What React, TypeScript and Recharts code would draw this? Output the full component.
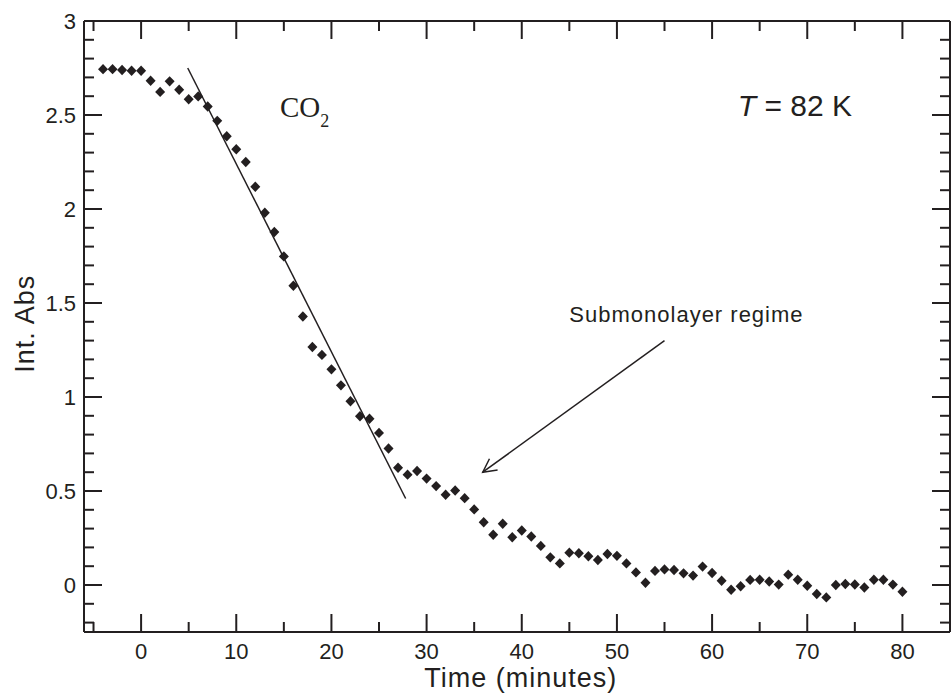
import React from 'react';
import { ScatterChart, Scatter, XAxis, YAxis, ReferenceLine, ReferenceDot } from 'recharts';

const INK = '#231f20';
const SANS = '"Liberation Sans", Arial, Helvetica, sans-serif';
const SERIF = '"Liberation Serif", "Times New Roman", serif';

// Time (minutes)
const times = [
  -4, -3, -2, -1, 0, 1, 2, 3, 4, 5, 6, 7, 8, 9, 10, 11, 12, 13, 14, 15, 16, 17, 18, 19, 20,
  21, 22, 23, 24, 25, 26, 27, 28, 29, 30, 31, 32, 33, 34, 35, 36, 37, 38, 39, 40,
  41, 42, 43, 44, 45, 46, 47, 48, 49, 50, 51, 52, 53, 54, 55, 56, 57, 58, 59, 60,
  61, 62, 63, 64, 65, 66, 67, 68, 69, 70, 71, 72, 73, 74, 75, 76, 77, 78, 79, 80,
];

// Integrated absorbance
const intAbs = [
  2.744, 2.744, 2.739, 2.735, 2.735, 2.682, 2.623, 2.679, 2.634, 2.584, 2.599, 2.545, 2.469, 2.387, 2.318,
  2.25, 2.118, 1.98, 1.878, 1.748, 1.592, 1.428, 1.266, 1.224, 1.147,
  1.062, 0.977, 0.898, 0.884, 0.809, 0.726, 0.624, 0.587, 0.606, 0.566, 0.526, 0.48, 0.503, 0.462, 0.402,
  0.334, 0.267, 0.326, 0.254, 0.29,
  0.258, 0.208, 0.147, 0.115, 0.172, 0.169, 0.153, 0.133, 0.165, 0.155, 0.115, 0.067, 0.012, 0.075, 0.083,
  0.08, 0.062, 0.05, 0.098, 0.064,
  0.023, -0.025, -0.007, 0.027, 0.028, 0.019, 0.002, 0.055, 0.028, -0.004, -0.048, -0.066, 0.0, 0.005, 0.003,
  -0.013, 0.028, 0.028, 0.002, -0.036,
];

const xTicks = [-5, 0, 5, 10, 15, 20, 25, 30, 35, 40, 45, 50, 55, 60, 65, 70, 75, 80];
const xMajor = [0, 10, 20, 30, 40, 50, 60, 70, 80];
const yTicks = [
  -0.2, -0.1, 0, 0.1, 0.2, 0.3, 0.4, 0.5, 0.6, 0.7, 0.8, 0.9, 1, 1.1, 1.2, 1.3, 1.4, 1.5,
  1.6, 1.7, 1.8, 1.9, 2, 2.1, 2.2, 2.3, 2.4, 2.5, 2.6, 2.7, 2.8, 2.9, 3,
];
const yMajor = [0, 0.5, 1, 1.5, 2, 2.5, 3];

const xDomain = [-6, 85];
const yDomain = [-0.25, 3];

// Linear fit line endpoints (time, int abs)
const fitSegment = [
  { x: 4.9, y: 2.75 },
  { x: 27.8, y: 0.46 },
];
// Arrow: tail -> tip
const arrowSegment = [
  { x: 55, y: 1.3 },
  { x: 35.9, y: 0.6 },
];

const co2Pos = { x: 14.6, y: 2.492 };
const tempPos = { x: 62.7, y: 2.496 };
const regimePos = { x: 45.0, y: 1.398 };
const xTitlePos = { x: 39.9, y: -0.25 };
const yTitlePos = { x: -6, y: 1.39 };

const data = times.map((t, i) => ({ x: t, y: intAbs[i] }));

// Draws short inward tick stubs at both ends of a full-span reference line
function renderStubs(p: any, isMajor: boolean) {
  const x1 = Number(p && p.x1);
  const y1 = Number(p && p.y1);
  const x2 = Number(p && p.x2);
  const y2 = Number(p && p.y2);
  if ([x1, y1, x2, y2].some((v) => isNaN(v))) return <g />;
  const dx = x2 - x1;
  const dy = y2 - y1;
  const d = Math.hypot(dx, dy) || 1;
  const ux = dx / d;
  const uy = dy / d;
  const L = isMajor ? 18 : 10;
  return (
    <g>
      <line x1={x1} y1={y1} x2={x1 + ux * L} y2={y1 + uy * L} stroke="#231f20" strokeWidth={2} />
      <line x1={x2} y1={y2} x2={x2 - ux * L} y2={y2 - uy * L} stroke="#231f20" strokeWidth={2} />
    </g>
  );
}

const BottomTick = (p: any) => {
  const v = p.payload.value;
  if (!xMajor.includes(v)) return <g />;
  return (
    <text x={Number(p.x)} y={Number(p.y) + 27} textAnchor="middle" fontSize={22} fontFamily={SANS} fill={INK}>
      {String(v)}
    </text>
  );
};

const LeftTick = (p: any) => {
  const v = p.payload.value;
  if (!yMajor.includes(v)) return <g />;
  return (
    <text x={Number(p.x) - 8} y={Number(p.y) + 8} textAnchor="end" fontSize={22} fontFamily={SANS} fill={INK}>
      {String(v)}
    </text>
  );
};

const Diamond = (p: any) => {
  const { cx, cy } = p;
  if (cx == null || cy == null) return <g />;
  return <polygon points={`${cx},${cy - 5.2} ${cx + 5},${cy} ${cx},${cy + 5.2} ${cx - 5},${cy}`} fill={INK} />;
};

const ArrowShape = (p: any) => {
  const { x1, y1, x2, y2 } = p;
  if ([x1, y1, x2, y2].some((v) => v == null || isNaN(v))) return <g />;
  const ang = Math.atan2(y1 - y2, x1 - x2);
  const ax = x2 + 15 * Math.cos(ang + 0.48);
  const ay = y2 + 15 * Math.sin(ang + 0.48);
  const bx = x2 + 15 * Math.cos(ang - 0.48);
  const by = y2 + 15 * Math.sin(ang - 0.48);
  return (
    <g>
      <line x1={x1} y1={y1} x2={x2} y2={y2} stroke={INK} strokeWidth={1.5} />
      <polyline points={`${ax},${ay} ${x2},${y2} ${bx},${by}`} fill="none" stroke={INK} strokeWidth={1.5} />
    </g>
  );
};

const Co2Label = (p: any) => (
  <text x={p.cx} y={p.cy} fontFamily={SERIF} fontSize={29} fill={INK}>
    CO<tspan fontSize={18} dy={10}>2</tspan>
  </text>
);

const TempLabel = (p: any) => (
  <text x={p.cx} y={p.cy} fontFamily={SANS} fontSize={30} fill={INK}>
    <tspan fontStyle="italic">T</tspan> = 82 K
  </text>
);

const RegimeLabel = (p: any) => (
  <text x={p.cx} y={p.cy} fontFamily={SANS} fontSize={22} letterSpacing={1} fill={INK}>
    Submonolayer regime
  </text>
);

const XTitle = (p: any) => (
  <text x={p.cx} y={p.cy + 55} textAnchor="middle" fontFamily={SANS} fontSize={27} letterSpacing={1} fill={INK}>
    Time (minutes)
  </text>
);

const YTitle = (p: any) => {
  const x = p.cx - 50;
  return (
    <text x={x} y={p.cy} transform={`rotate(-90, ${x}, ${p.cy})`} textAnchor="middle" fontFamily={SANS} fontSize={27} letterSpacing={1} fill={INK}>
      Int. Abs
    </text>
  );
};

export default function App() {
  return (
    <div style={{ position: 'absolute', left: 0, top: 0, width: 952, height: 693, background: '#fff' }}>
      <ScatterChart width={952} height={693} margin={{ top: 20, right: 1, bottom: 60, left: 83 }}>
        <XAxis
          type="number"
          dataKey="x"
          domain={xDomain}
          allowDataOverflow
          ticks={xTicks}
          interval={0}
          height={1}
          tickSize={0}
          tickMargin={0}
          tickLine={false}
          tick={BottomTick}
          axisLine={{ stroke: INK, strokeWidth: 2 }}
        />
        <XAxis
          xAxisId="top"
          orientation="top"
          type="number"
          dataKey="x"
          domain={xDomain}
          allowDataOverflow
          ticks={xTicks}
          height={1}
          tickLine={false}
          tick={false}
          axisLine={{ stroke: INK, strokeWidth: 2 }}
        />
        <YAxis
          type="number"
          dataKey="y"
          domain={yDomain}
          allowDataOverflow
          ticks={yTicks}
          interval={0}
          width={1}
          tickSize={0}
          tickMargin={0}
          tickLine={false}
          tick={LeftTick}
          axisLine={{ stroke: INK, strokeWidth: 2 }}
        />
        <YAxis
          yAxisId="right"
          orientation="right"
          type="number"
          dataKey="y"
          domain={yDomain}
          allowDataOverflow
          ticks={yTicks}
          width={1}
          tickLine={false}
          tick={false}
          axisLine={{ stroke: INK, strokeWidth: 2 }}
        />
        {xTicks.map((v) => (
          <ReferenceLine
            key={`xt${v}`}
            x={v}
            stroke={INK}
            strokeWidth={2}
            ifOverflow="visible"
            shape={(p: any) => renderStubs(p, xMajor.includes(v))}
          />
        ))}
        {yTicks.map((v) => (
          <ReferenceLine
            key={`yt${v}`}
            y={v}
            stroke={INK}
            strokeWidth={2}
            ifOverflow="visible"
            shape={(p: any) => renderStubs(p, yMajor.includes(v))}
          />
        ))}
        <ReferenceLine segment={fitSegment} stroke={INK} strokeWidth={1.5} ifOverflow="visible" />
        <ReferenceLine segment={arrowSegment} stroke={INK} strokeWidth={1.5} ifOverflow="visible" shape={ArrowShape} />
        <ReferenceDot x={co2Pos.x} y={co2Pos.y} r={1} ifOverflow="visible" shape={Co2Label} />
        <ReferenceDot x={tempPos.x} y={tempPos.y} r={1} ifOverflow="visible" shape={TempLabel} />
        <ReferenceDot x={regimePos.x} y={regimePos.y} r={1} ifOverflow="visible" shape={RegimeLabel} />
        <ReferenceDot x={xTitlePos.x} y={xTitlePos.y} r={1} ifOverflow="visible" shape={XTitle} />
        <ReferenceDot x={yTitlePos.x} y={yTitlePos.y} r={1} ifOverflow="visible" shape={YTitle} />
        <Scatter data={data} shape={Diamond} fill={INK} isAnimationActive={false} />
        <Scatter data={data} xAxisId="top" yAxisId="right" shape={() => <g />} isAnimationActive={false} />
      </ScatterChart>
    </div>
  );
}
